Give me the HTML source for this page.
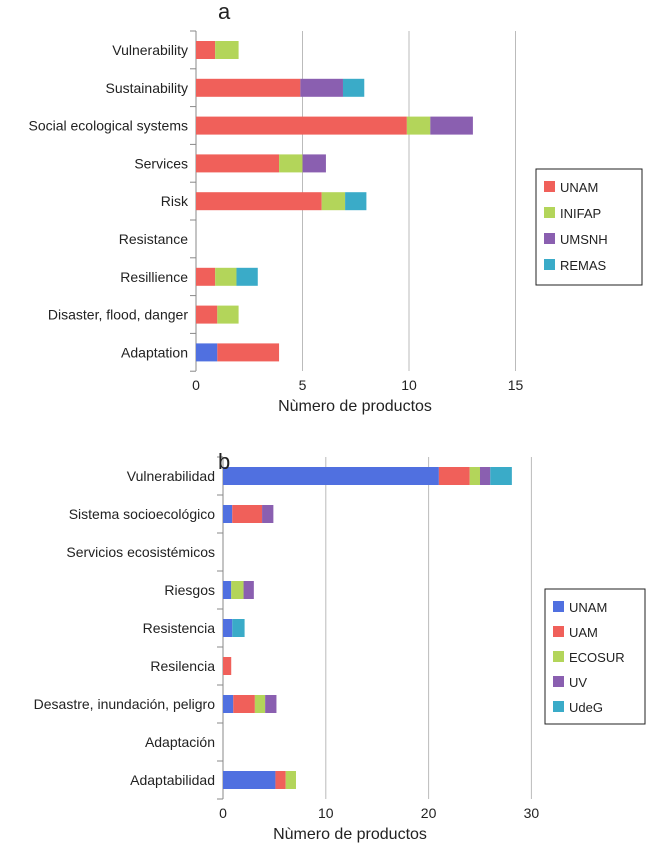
<!DOCTYPE html>
<html><head><meta charset="utf-8"><style>
body{margin:0;background:#fff;width:650px;height:858px;overflow:hidden}
svg{display:block;font-family:"Liberation Sans",sans-serif}
</style></head><body>
<svg id="s" width="650" height="858"></svg>
<script>
// Panel a data
const catsA = ["Vulnerability","Sustainability","Social ecological systems","Services","Risk","Resistance","Resillience","Disaster, flood, danger","Adaptation"];
const seriesA = ["Other","UNAM","INIFAP","UMSNH","REMAS"];
const otherA = [0,0,0,0,0,0,0,0,1];
const unamA = [0.9,4.9,9.9,3.9,5.9,0,0.9,1,2.9];
const inifapA = [1.1,0,1.1,1.1,1.1,0,1,1,0];
const umsnhA = [0,2,2,1.1,0,0,0,0,0];
const remasA = [0,1,0,0,1,0,1,0,0];
const ticksA = [0,5,10,15];
// Panel b data
const catsB = ["Vulnerabilidad","Sistema socioecológico","Servicios ecosistémicos","Riesgos","Resistencia","Resilencia","Desastre, inundación, peligro","Adaptación","Adaptabilidad"];
const seriesB = ["UNAM","UAM","ECOSUR","UV","UdeG"];
const unamB = [21,0.9,0,0.8,0.9,0,1,0,5.1];
const uamB = [3,2.9,0,0,0,0.8,2.1,0,1];
const ecosurB = [1,0,0,1.2,0,0,1,0,1];
const uvB = [1,1.1,0,1,0,0,1.1,0,0];
const udegB = [2.1,0,0,0,1.2,0,0,0,0];
const ticksB = [0,10,20,30];

const NS="http://www.w3.org/2000/svg", S=document.getElementById('s');
function el(t,a,txt){const e=document.createElementNS(NS,t);for(const k in a)e.setAttribute(k,a[k]);if(txt!=null)e.textContent=txt;S.appendChild(e);return e;}
const colors={UNAM:"#f0605a",INIFAP:"#b3d55a",UMSNH:"#8a5fb0",REMAS:"#3aabc8",Other:"#5070e0"};
const colorsB={UNAM:"#5070e0",UAM:"#f0605a",ECOSUR:"#b3d55a",UV:"#8a5fb0",UdeG:"#3aabc8"};

function panel(cfg){
  const x=v=>cfg.x0+v*cfg.k;
  const y=i=>cfg.y0+i*cfg.step;
  cfg.ticks.forEach(t=>{
    if(t>0){const g=el('line',{x1:x(t),x2:x(t),y1:cfg.top,y2:cfg.bottom,stroke:'#bbb','stroke-width':1});
    }
    const tl=el('text',{x:x(t),y:cfg.bottom+19,'font-size':14,'text-anchor':'middle',fill:'#222'},t);
    
  });
  const ax=el('line',{x1:cfg.x0,x2:cfg.x0,y1:cfg.top,y2:cfg.bottom,stroke:'#888','stroke-width':1});
  
  for(let i=0;i<=cfg.cats.length;i++){
    const yy=cfg.top+i*cfg.step;
    el('line',{x1:cfg.x0-6,x2:cfg.x0,y1:yy,y2:yy,stroke:'#888'});
  }
  cfg.cats.forEach((c,i)=>{
    const t=el('text',{x:cfg.x0-8,y:y(i)+5,'font-size':14,'text-anchor':'end',fill:'#222'},c);
    
    let acc=0;
    cfg.series.forEach((s,j)=>{
      const v=cfg.vals[j][i]||0;
      if(v>0){
        const r=el('rect',{x:x(acc),y:y(i)-9,width:v*cfg.k,height:18,fill:cfg.col[s]});
        
      }
      acc+=v;
    });
  });
  const xt=el('text',{x:cfg.xtx,y:cfg.bottom+40,'font-size':16,'text-anchor':'middle',fill:'#222'},'Nùmero de productos');
  
  const lab=el('text',{x:cfg.labx,y:cfg.laby,'font-size':22,fill:'#222'},cfg.label);
  
  const lb=el('rect',{x:cfg.lx,y:cfg.ly,width:cfg.lw,height:cfg.lh,fill:'#fff',stroke:'#222'});
  
  cfg.legend.forEach((s,j)=>{
    const yy=cfg.ly+18+j*cfg.lstep;
    el('rect',{x:cfg.lx+8,y:yy-6,width:11,height:11,fill:cfg.col[s]});
    const t=el('text',{x:cfg.lx+24,y:yy+5,'font-size':13,fill:'#222'},s);
    
  });
}
panel({cats:catsA,series:seriesA,vals:[otherA,unamA,inifapA,umsnhA,remasA],col:colors,ticks:ticksA,
  x0:196,k:21.3,y0:50,step:37.8,top:31,bottom:371,xtx:355,label:'a',labx:218,laby:19,
  lx:536,ly:169,lw:106,lh:116,lstep:26,legend:["UNAM","INIFAP","UMSNH","REMAS"]});
panel({cats:catsB,series:seriesB,vals:[unamB,uamB,ecosurB,uvB,udegB],col:colorsB,ticks:ticksB,
  x0:223,k:10.28,y0:476,step:38,top:457,bottom:799,xtx:350,label:'b',labx:218,laby:469,
  lx:545,ly:589,lw:100,lh:135,lstep:25,legend:seriesB});
</script>
</body></html>
